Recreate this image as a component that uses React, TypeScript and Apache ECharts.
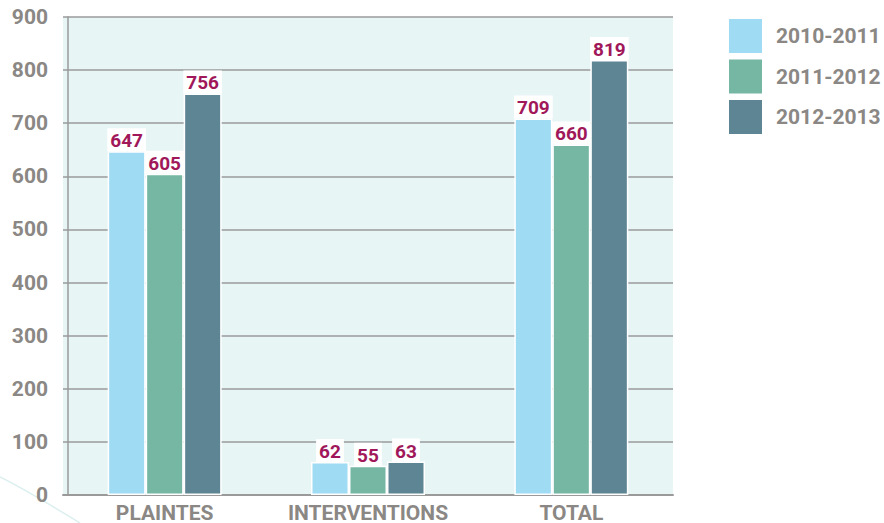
import React, { useEffect, useRef } from "react";
import * as echarts from "echarts";

const categories = ["PLAINTES", "INTERVENTIONS", "TOTAL"];
const seriesNames = ["2010-2011", "2011-2012", "2012-2013"];
const values2010 = [647, 62, 709];
const values2011 = [605, 55, 660];
const values2012 = [756, 63, 819];
const colors = ["#9FDBF3", "#75B7A2", "#5E8594"];

export default function App() {
  const ref = useRef<HTMLDivElement>(null);
  useEffect(() => {
    if (!ref.current) return;
    const chart = echarts.init(ref.current, null, { renderer: "svg" });
    const font = "Roboto, 'DejaVu Sans', sans-serif";
    const data = [values2010, values2011, values2012];
    chart.setOption({
      animation: false,
      textStyle: { fontFamily: font },
      grid: {
        left: 63,
        right: 211,
        top: 17,
        bottom: 27,
        show: true,
        backgroundColor: "#E8F5F5",
        borderWidth: 0,
        containLabel: false,
      },
      graphic: [
        {
          type: "bezierCurve",
          shape: { x1: 0, y1: 477, cpx1: 30, cpy1: 492, cpx2: 55, cpy2: 508, x2: 80, y2: 523 },
          style: { stroke: "#DCEFEF", lineWidth: 1.5, fill: null },
          z: -1,
        },
      ],
      legend: {
        orient: "vertical",
        left: 727,
        top: 17,
        padding: 0,
        itemWidth: 35,
        itemHeight: 36,
        itemGap: 2.5,
        icon: "rect",
        data: seriesNames,
        textStyle: {
          color: "#8A8784",
          fontSize: 21,
          fontWeight: "bold",
          fontFamily: font,
          padding: [0, 0, 0, 8],
        },
      },
      xAxis: {
        type: "category",
        data: categories,
        axisLine: { show: true, lineStyle: { color: "#9A9A9A", width: 2 } },
        axisTick: { show: false },
        axisLabel: {
          interval: 0,
          hideOverlap: false,
          color: "#8A8784",
          fontSize: 21,
          fontWeight: "bold",
          fontFamily: font,
          margin: 7,
        },
      },
      yAxis: {
        type: "value",
        min: 0,
        max: 900,
        interval: 100,
        offset: -5,
        axisLine: { show: true, lineStyle: { color: "#9A9A9A", width: 1.5 } },
        axisTick: { show: false },
        splitLine: { show: true, lineStyle: { color: "#9A9A9A", width: 1.5 } },
        axisLabel: {
          color: "#8A8784",
          fontSize: 21,
          fontWeight: "bold",
          fontFamily: font,
          margin: 20,
        },
      },
      series: seriesNames.map((name, i) => ({
        name,
        type: "bar",
        data: data[i],
        barWidth: 38,
        barGap: "0%",
        itemStyle: { color: colors[i], borderColor: "#FFFFFF", borderWidth: 1.5 },
        label: {
          show: true,
          position: "top",
          distance: 0,
          color: "#A0185A",
          fontSize: 19,
          fontWeight: "bold",
          fontFamily: font,
          backgroundColor: "#FFFFFF",
          padding: [3, 3, 1, 3],
        },
      })),
    });
    return () => chart.dispose();
  }, []);
  return <div ref={ref} style={{ width: 884, height: 523, position: "absolute", left: 0, top: 0 }} />;
}
